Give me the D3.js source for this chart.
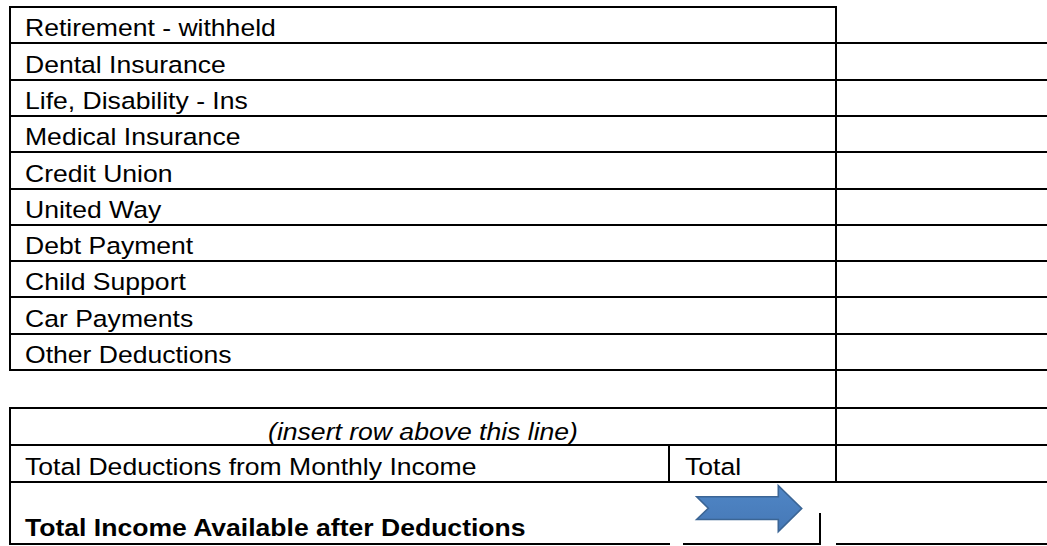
<!DOCTYPE html>
<html>
<head>
<meta charset="utf-8">
<script src="https://cdn.jsdelivr.net/npm/d3@7"></script>
<style>
  html, body { margin: 0; padding: 0; background: #fff; }
  svg { display: block; }
</style>
</head>
<body>
<svg id="chart" width="1047" height="546"></svg>
<script>
// ---- data ----
const deductionRows = [
  "Retirement - withheld",
  "Dental Insurance",
  "Life, Disability - Ins",
  "Medical Insurance",
  "Credit Union",
  "United Way",
  "Debt Payment",
  "Child Support",
  "Car Payments",
  "Other Deductions"
];
const insertNote = "(insert row above this line)";
const totalLabel = "Total Deductions from Monthly Income";
const totalCell = "Total";
const finalLabel = "Total Income Available after Deductions";

// ---- layout ----
const svg = d3.select("#chart");
const W = 1047;
// row boundary index -> y (piecewise linear, snapped to whole pixels)
const yRaw = d3.scaleLinear().domain([0, 10, 11, 13]).range([7, 370, 408, 482]);
const y = k => Math.round(yRaw(k));
const yBottom = 544;
const xLeft = 10, xMid = 836, xTotal = 669, xRight = W;
const fs = 23.3, sx = 1.14;

const g = svg.append("g").attr("stroke", "#000").attr("stroke-width", 2).attr("fill", "none");

function line(x1, y1, x2, y2, w) {
  g.append("line").attr("x1", x1).attr("y1", y1).attr("x2", x2).attr("y2", y2)
    .attr("stroke-width", w || 2);
}

// top border of left table
line(xLeft - 1, y(0), xMid + 1, y(0));
// horizontal row lines
d3.range(1, 14).forEach(k => line(xLeft - 1, y(k), xRight, y(k)));
// left vertical borders
line(xLeft, y(0), xLeft, y(10) + 1);
line(xLeft, y(11) - 1, xLeft, yBottom + 1);
// middle vertical
line(xMid, y(0) - 1, xMid, y(13) + 1);
// Total cell divider
line(xTotal, y(12), xTotal, y(13));
// bottom segments
line(xLeft - 1, yBottom, 670, yBottom);
line(683, yBottom, 821, yBottom);
line(836, yBottom, xRight, yBottom);
line(820, 513, 820, yBottom + 1);

// ---- text ----
const t = svg.append("g").attr("font-family", "'Liberation Sans', Arial, sans-serif")
  .attr("font-size", fs).attr("fill", "#000");

function text(str, x, yy, opts) {
  opts = opts || {};
  t.append("text")
    .attr("transform", `translate(${x},${yy}) scale(${sx},1)`)
    .attr("text-anchor", opts.anchor || "start")
    .attr("font-style", opts.italic ? "italic" : null)
    .attr("font-weight", opts.bold ? "bold" : null)
    .text(str);
}

deductionRows.forEach((d, i) => text(d, 25, y(i + 1) - 7));
text(insertNote, (xLeft + xMid) / 2, y(12) - 5, { anchor: "middle", italic: true });
text(totalLabel, 25, y(13) - 7);
text(totalCell, 685, y(13) - 7);
text(finalLabel, 25, 536, { bold: true });

// ---- arrow ----
const arrowPts = [
  [696.7, 496.7], [778.3, 496.7], [778.3, 485.7], [801.7, 508.5],
  [778.3, 531.5], [778.3, 519.5], [696.7, 519.5], [708.3, 508.3]
];
const defs = svg.append("defs");
const grad = defs.append("linearGradient").attr("id", "ag").attr("x1", 0).attr("y1", 0).attr("x2", 0).attr("y2", 1);
grad.append("stop").attr("offset", "0%").attr("stop-color", "#4f86c6");
grad.append("stop").attr("offset", "100%").attr("stop-color", "#4678b6");
svg.append("polygon")
  .attr("points", arrowPts.map(p => p.join(",")).join(" "))
  .attr("fill", "url(#ag)")
  .attr("stroke", "#3b6595")
  .attr("stroke-width", 1.6)
  .attr("stroke-linejoin", "miter");
</script>
</body>
</html>
